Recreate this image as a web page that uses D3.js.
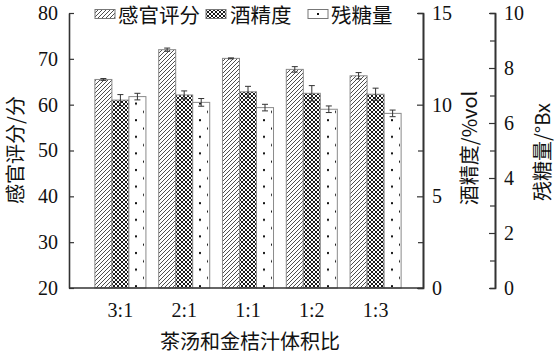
<html>
<head>
<meta charset="utf-8">
<style>
  body { margin: 0; background: #fff; }
  svg text { fill: #111; }
  .num { font-family: "Liberation Serif", "DejaVu Serif", serif; font-size: 20px; }
  .cjk { font-family: "Noto Sans CJK SC", sans-serif; font-size: 20px; }
</style>
</head>
<body>
<svg id="chart" width="559" height="354"></svg>
<script src="https://d3js.org/d3.v7.min.js"></script>
<script>
// data
const categories = ["3:1", "2:1", "1:1", "1:2", "1:3"];
const seriesNames = ["感官评分", "酒精度", "残糖量"];
const sensory = [65.5, 72.0, 70.1, 67.7, 66.3];
const sensoryErr = [0.2, 0.35, 0.1, 0.6, 0.7];
const alcohol = [10.25, 10.53, 10.7, 10.62, 10.57];
const alcoholErr = [0.3, 0.22, 0.3, 0.42, 0.33];
const sugar = [6.96, 6.75, 6.56, 6.5, 6.35];
const sugarErr = [0.12, 0.14, 0.12, 0.12, 0.12];
const leftTicks = [20, 30, 40, 50, 60, 70, 80];
const alcoholTicks = [0, 5, 10, 15];
const alcoholMinor = [2.5, 7.5, 12.5];
const sugarTicks = [0, 2, 4, 6, 8, 10];
const sugarMinor = [1, 3, 5, 7, 9];

const svg = d3.select("#chart");
const L = 69, R = 423, R2 = 495, plotTop = 13, plotBottom = 288;

let yL = d3.scaleLinear().domain([20, 80]).range([plotBottom, plotTop]);
let yA = d3.scaleLinear().domain([0, 15]).range([plotBottom, plotTop]);
let yS = d3.scaleLinear().domain([0, 10]).range([plotBottom, plotTop]);
let x = d3.scaleBand().domain(categories).range([L + 19.5, R - 15.5])
    .paddingInner(0.2).paddingOuter(0.1);
let xs = d3.scaleBand().domain(seriesNames).range([0, x.bandwidth()]);

// fill patterns
const defs = svg.append("defs");
let hatch = defs.append("pattern").attr("id", "hatch")
    .attr("patternUnits", "userSpaceOnUse").attr("width", 4).attr("height", 4);
hatch.append("rect").attr("width", 4).attr("height", 4).attr("fill", "#fff");
hatch.append("path").attr("d", "M-1,1 L1,-1 M0,4 L4,0 M3,5 L5,3")
    .attr("stroke", "#111").attr("stroke-width", 0.75);

let cross = defs.append("pattern").attr("id", "cross")
    .attr("patternUnits", "userSpaceOnUse").attr("width", 4).attr("height", 4);
cross.append("rect").attr("width", 4).attr("height", 4).attr("fill", "#fff");
cross.append("path").attr("d", "M-1,1 L1,-1 M0,4 L4,0 M3,5 L5,3 M-1,3 L1,5 M0,0 L4,4 M3,-1 L5,1")
    .attr("stroke", "#1a1a1a").attr("stroke-width", 1);

let dots = defs.append("pattern").attr("id", "dots")
    .attr("patternUnits", "userSpaceOnUse").attr("width", 16).attr("height", 16.6)
    .attr("x", 0).attr("y", 0);
dots.append("rect").attr("width", 16).attr("height", 16.6).attr("fill", "#fff");
dots.append("rect").attr("x", 7).attr("y", 3).attr("width", 2).attr("height", 2).attr("fill", "#111");
dots.append("rect").attr("x", 15).attr("y", 11.3).attr("width", 2).attr("height", 2).attr("fill", "#111");

const fills = ["url(#hatch)", "url(#cross)", "url(#dots)"];

// one row per bar
let rows = [];
categories.forEach((c, i) => {
    rows.push({ cat: c, s: seriesNames[0], v: sensory[i], e: sensoryErr[i], y: yL, f: fills[0] });
    rows.push({ cat: c, s: seriesNames[1], v: alcohol[i], e: alcoholErr[i], y: yA, f: fills[1] });
    rows.push({ cat: c, s: seriesNames[2], v: sugar[i], e: sugarErr[i], y: yS, f: fills[2] });
});

let bars = svg.append("g");
bars.selectAll("rect").data(rows).enter().append("rect")
    .attr("x", d => x(d.cat) + xs(d.s))
    .attr("y", d => d.y(d.v))
    .attr("width", xs.bandwidth())
    .attr("height", d => plotBottom - d.y(d.v))
    .attr("fill", d => d.f)
    .attr("stroke", "#8a8a8a")
    .attr("stroke-width", 1);

// error bars
let errs = svg.append("g").attr("stroke", "#333").attr("stroke-width", 1);
let eg = errs.selectAll("g").data(rows).enter().append("g")
    .attr("transform", d => `translate(${x(d.cat) + xs(d.s) + xs.bandwidth() / 2},0)`);
eg.append("line").attr("y1", d => d.y(d.v - d.e)).attr("y2", d => d.y(d.v + d.e));
eg.append("line").attr("x1", -3).attr("x2", 3).attr("y1", d => d.y(d.v + d.e)).attr("y2", d => d.y(d.v + d.e));
eg.append("line").attr("x1", -3).attr("x2", 3).attr("y1", d => d.y(d.v - d.e)).attr("y2", d => d.y(d.v - d.e));

// axes
function styleAxis(g) {
    g.selectAll(".domain").attr("stroke", "#333").attr("stroke-width", 1.6);
    g.selectAll(".tick line").attr("stroke", "#333").attr("stroke-width", 1.2);
    g.selectAll("text").attr("class", "num").attr("fill", "#111");
    g.attr("font-family", null).attr("font-size", null);
}

let yAxis = d3.axisLeft(yL).tickValues(leftTicks).tickSize(-5).tickSizeOuter(0).tickPadding(11);
svg.append("g").attr("transform", `translate(${L},0)`).call(yAxis).call(styleAxis);

let aAxis = d3.axisRight(yA).tickValues(alcoholTicks).tickSize(-6).tickSizeOuter(0).tickPadding(9);
svg.append("g").attr("transform", `translate(${R},0)`).call(aAxis).call(styleAxis);
let aMinor = d3.axisRight(yA).tickValues(alcoholMinor).tickSize(-5).tickFormat("");
svg.append("g").attr("transform", `translate(${R},0)`).call(aMinor).call(styleAxis);

let sAxis = d3.axisRight(yS).tickValues(sugarTicks).tickSize(-6).tickSizeOuter(0).tickPadding(9);
svg.append("g").attr("transform", `translate(${R2},0)`).call(sAxis).call(styleAxis);
let sMinor = d3.axisRight(yS).tickValues(sugarMinor).tickSize(-5).tickFormat("");
svg.append("g").attr("transform", `translate(${R2},0)`).call(sMinor).call(styleAxis);

let xAxis = d3.axisBottom(x).tickSize(0).tickPadding(15);
let xg = svg.append("g").attr("transform", `translate(0,${plotBottom})`).call(xAxis).call(styleAxis);
xg.select(".domain").remove();
svg.append("line").attr("x1", L).attr("x2", R).attr("y1", plotBottom).attr("y2", plotBottom)
    .attr("stroke", "#333").attr("stroke-width", 1.6);

// axis titles
svg.append("text").attr("class", "cjk").attr("text-anchor", "middle")
    .attr("transform", "translate(23,150) rotate(-90)").text("感官评分/分");
svg.append("text").attr("class", "cjk").attr("text-anchor", "middle")
    .attr("transform", "translate(477,148) rotate(-90)").text("酒精度/%vol");
svg.append("text").attr("class", "cjk").attr("text-anchor", "middle")
    .attr("transform", "translate(550,152) rotate(-90)").text("残糖量/°Bx");
svg.append("text").attr("class", "cjk").attr("text-anchor", "middle")
    .attr("x", (L + R) / 2 + 4).attr("y", 349).text("茶汤和金桔汁体积比");

// legend
const legendSwatchX = [95, 206, 308];
const legendTextX = [118, 230, 331];
let leg = svg.append("g");
seriesNames.forEach((s, i) => {
    leg.append("rect").attr("x", legendSwatchX[i]).attr("y", 9.5)
        .attr("width", 20).attr("height", 9)
        .attr("fill", i < 2 ? fills[i] : "#fff")
        .attr("stroke", "#777").attr("stroke-width", 1);
    if (i === 2) {
        leg.append("rect").attr("x", legendSwatchX[i] + 9).attr("y", 13)
            .attr("width", 2).attr("height", 2).attr("fill", "#111");
    }
    leg.append("text").attr("class", "cjk").attr("x", legendTextX[i]).attr("y", 22.5)
        .style("font-size", "20.5px").text(s);
});
</script>
</body>
</html>
